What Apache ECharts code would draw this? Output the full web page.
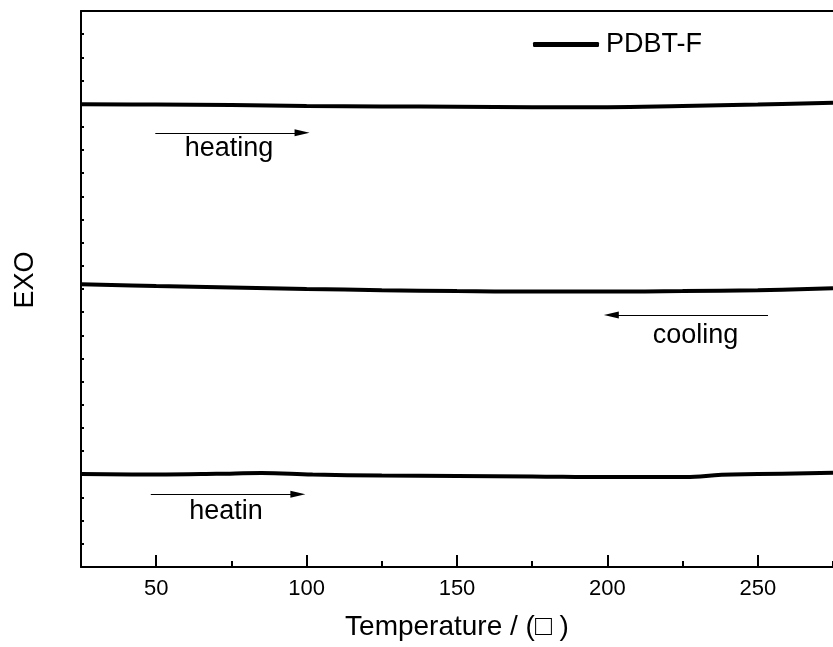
<!DOCTYPE html>
<html>
<head>
<meta charset="utf-8">
<script src="https://cdn.jsdelivr.net/npm/echarts@6/dist/echarts.min.js"></script>
<style>html,body{margin:0;padding:0;background:#fff}#c{width:833px;height:647px}</style>
</head>
<body>
<div id="c"></div>
<script>
// Temperatures (°C) and EXO signal (arbitrary units, curves offset vertically)
const temps = [25, 50, 75, 100, 125, 150, 175, 200, 225, 250, 275];
const heating2 = [19.97, 19.96, 19.94, 19.90, 19.88, 19.87, 19.85, 19.85, 19.90, 19.96, 20.04];
const cooling = [12.21, 12.13, 12.06, 12.00, 11.95, 11.91, 11.89, 11.89, 11.91, 11.95, 12.03];
const heating1Temps = [25, 50, 70, 85, 102, 125, 150, 175, 200, 226, 238, 250, 275];
const heating1 = [4.01, 3.99, 4.02, 4.06, 3.99, 3.95, 3.93, 3.91, 3.88, 3.88, 3.98, 4.01, 4.07];
const xTicks = [50, 100, 150, 200, 250];
const seriesName = 'PDBT-F';
// annotation arrows: [startT, endT, level] and labels: [text, T, level]
const arrows = [[49.7, 98.5, 18.74], [253.4, 201.3, 10.88], [48.2, 97.1, 3.14]];
const notes = [['heating', 74.2, 18.08], ['cooling', 229.3, 10.01], ['heatin', 73.2, 2.38]];

const pairs = (xs, ys) => xs.map((x, i) => [x, ys[i]]);
const FONT = 'Liberation Sans, Arial, sans-serif';

const chart = echarts.init(document.getElementById('c'), null, {renderer: 'canvas'});
const lineBase = {
  type: 'line', name: seriesName, smooth: 0.4, showSymbol: false, symbol: 'none',
  lineStyle: {color: '#000', width: 4}, itemStyle: {color: '#000'}, silent: true,
  emphasis: {disabled: true}, z: 3
};
chart.setOption({
  animation: false,
  backgroundColor: '#fff',
  grid: {left: 81, right: -1, top: 11, bottom: 80, containLabel: false},
  legend: {
    data: [seriesName], left: 528, top: 26, icon: 'roundRect', itemWidth: 66, itemHeight: 5,
    textStyle: {color: '#000', fontSize: 27, fontFamily: FONT, padding: [0, 0, 0, 2]},
    selectedMode: false
  },
  xAxis: [{
    type: 'value', min: 25, max: 275, interval: 25, position: 'bottom',
    name: 'Temperature / (\u25A1 )', nameLocation: 'middle', nameGap: 46,
    nameTextStyle: {color: '#000', fontSize: 28, fontFamily: FONT},
    axisLine: {show: true, lineStyle: {color: '#000', width: 2}},
    axisTick: {show: true, inside: true, length: 12, lineStyle: {color: '#000', width: 2},
      customValues: xTicks},
    minorTick: {show: false},
    axisLabel: {color: '#000', fontSize: 22, fontFamily: FONT, margin: 11,
      customValues: xTicks},
    splitLine: {show: false}
  }, {
    type: 'value', min: 25, max: 275, interval: 25, position: 'top',
    axisLine: {show: true, lineStyle: {color: '#000', width: 2}},
    axisTick: {show: false}, axisLabel: {show: false}, splitLine: {show: false}
  }, {
    type: 'value', min: 25, max: 275, interval: 25, position: 'bottom',
    axisLine: {show: false},
    axisTick: {show: true, inside: true, length: 6, lineStyle: {color: '#000', width: 2}},
    axisLabel: {show: false}, splitLine: {show: false}
  }],
  yAxis: {
    type: 'value', min: 0, max: 24, interval: 1,
    name: 'EXO', nameLocation: 'middle', nameGap: 42, nameRotate: 90,
    nameTextStyle: {color: '#000', fontSize: 27, fontFamily: FONT, padding: [0, 0, 0, 18]},
    axisLine: {show: true, lineStyle: {color: '#000', width: 2}},
    axisTick: {show: true, inside: true, length: 3, lineStyle: {color: '#000', width: 2}},
    axisLabel: {show: false}, splitLine: {show: false}
  },
  series: [
    Object.assign({}, lineBase, {
      data: pairs(temps, heating2),
      markLine: {
        silent: true, animation: false,
        label: {show: false},
        lineStyle: {color: '#000', width: 1, type: 'solid'},
        emphasis: {disabled: true},
        symbol: ['none', 'triangle'], symbolSize: [7, 15],
        data: arrows.map(a => [
          {coord: [a[0], a[2]], symbol: 'none'},
          {coord: [a[1], a[2]], symbol: 'triangle', symbolSize: [7, 15]}
        ])
      },
      markPoint: {
        silent: true, animation: false,
        data: notes.map(n => ({
          coord: [n[1], n[2]], symbol: 'circle', symbolSize: 0, value: n[0],
          label: {show: true, position: 'inside', formatter: n[0], color: '#000',
            fontSize: 27, fontFamily: FONT}
        }))
      }
    }),
    Object.assign({}, lineBase, {data: pairs(temps, cooling)}),
    Object.assign({}, lineBase, {data: pairs(heating1Temps, heating1)})
  ]
});
</script>
</body>
</html>
